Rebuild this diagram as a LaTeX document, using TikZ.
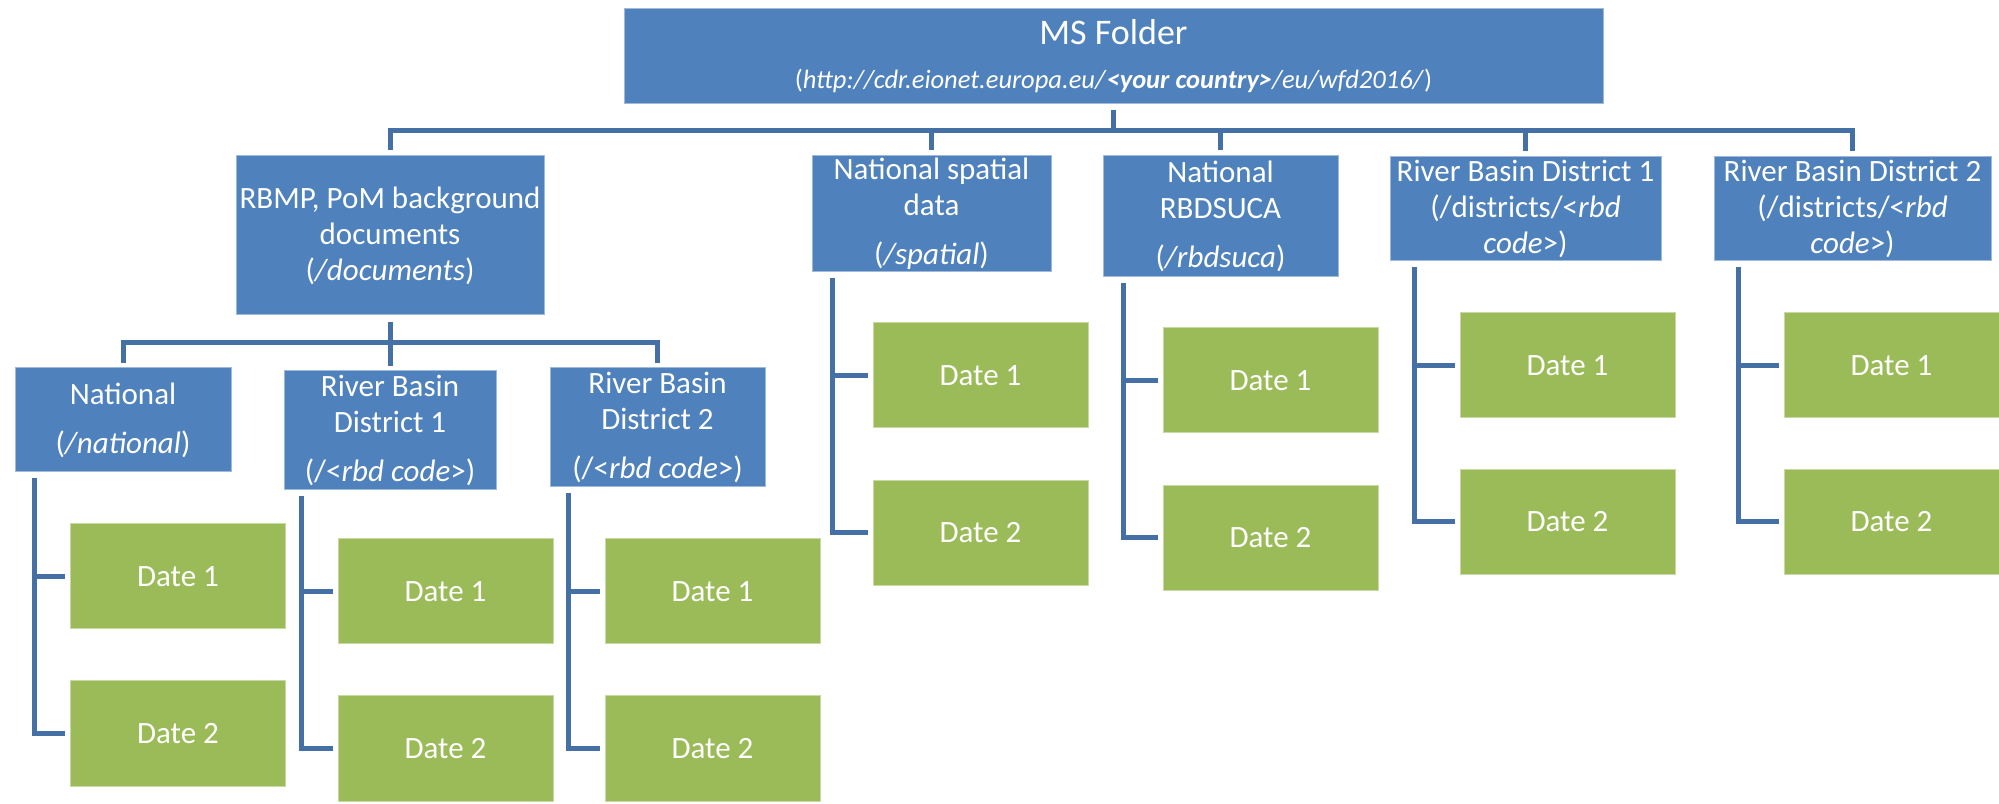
\documentclass[tikz,border=0pt]{standalone}
\usepackage{fontspec}
\setmainfont{Carlito}
\usepackage{tikz}
\usetikzlibrary{positioning,calc}

\definecolor{boxblue}{HTML}{4F81BD}
\definecolor{dategreen}{HTML}{9BBB59}
\definecolor{connblue}{HTML}{4470A6}

\tikzset{
  folder/.style={rectangle, fill=boxblue, draw=boxblue!55!white, line width=1pt,
    text=white, align=center, inner sep=0pt, font=\fontsize{31}{36}\selectfont},
  datebox/.style={rectangle, fill=dategreen, draw=dategreen!55!white, line width=1pt,
    text=white, inner sep=0pt, minimum width=215pt, minimum height=105pt,
    font=\fontsize{31}{36}\selectfont},
  conn/.style={draw=connblue, line width=5pt}
}

\begin{document}
\begin{tikzpicture}[x=1pt,y=1pt]
        \useasboundingbox (0,0) rectangle (1999,803);

        % Top folder
        \node[folder, minimum width=979pt, minimum height=95pt] (ms) at (1113.5,746.5)
          {{\fontsize{36}{40}\selectfont MS Folder}\\[8pt]
           {\fontsize{26.5}{30}\selectfont (\textit{http://cdr.eionet.europa.eu/}\textbf{\textit{<your country>}}\textit{/eu/wfd2016/})}};

        % First level folders
        \node[folder, minimum width=308pt, minimum height=159pt] (docs) at (390,567.5)
          {RBMP, PoM background\\documents\\(\textit{/documents})};
        \node[folder, minimum width=239pt, minimum height=116pt] (spatial) at (931.5,589)
          {National spatial\\data\\[13pt](\textit{/spatial})};
        \node[folder, minimum width=235pt, minimum height=121pt] (rbdsuca) at (1220.5,586.5)
          {National\\RBDSUCA\\[13pt](\textit{/rbdsuca})};
        \node[folder, minimum width=271pt, minimum height=104pt] (rbdA) at (1525.5,594)
          {River Basin District 1\\(/districts/<\textit{rbd}\\\textit{code}>)};
        \node[folder, minimum width=277pt, minimum height=104pt] (rbdB) at (1852.5,594)
          {River Basin District 2\\(/districts/<\textit{rbd}\\\textit{code}>)};

        % Folders below the documents
        \node[folder, minimum width=216pt, minimum height=104pt] (nat) at (123,383)
          {National\\[13pt](\textit{/national})};
        \node[folder, minimum width=212pt, minimum height=119pt] (docA) at (390,372.5)
          {River Basin\\District 1\\[13pt](/<\textit{rbd code}>)};
        \node[folder, minimum width=215pt, minimum height=119pt] (docB) at (657.5,375.5)
          {River Basin\\District 2\\[13pt](/<\textit{rbd code}>)};

        % Date folders
        \node[datebox] (natA) at (178,226.5) {Date 1};
        \node[datebox] (natB) at (178,69.5) {Date 2};
        \node[datebox] (docAA) at (445.5,211.5) {Date 1};
        \node[datebox] (docAB) at (445.5,54.5) {Date 2};
        \node[datebox] (docBA) at (712.5,211.5) {Date 1};
        \node[datebox] (docBB) at (712.5,54.5) {Date 2};
        \node[datebox] (spatialA) at (980.5,427.5) {Date 1};
        \node[datebox] (spatialB) at (980.5,270) {Date 2};
        \node[datebox] (rbdsucaA) at (1270.5,422.5) {Date 1};
        \node[datebox] (rbdsucaB) at (1270.5,265) {Date 2};
        \node[datebox] (rbdAA) at (1567.5,437.5) {Date 1};
        \node[datebox] (rbdAB) at (1567.5,281) {Date 2};
        \node[datebox] (rbdBA) at (1891.5,437.5) {Date 1};
        \node[datebox] (rbdBB) at (1891.5,281) {Date 2};

        % Connect the top folder to the first level
        \draw[conn] ([yshift=-6pt]ms.south) -- ++(0,-20) -| ([yshift=5pt]docs.north);
        \draw[conn] ([yshift=-6pt]ms.south) -- ++(0,-20) -| ([yshift=5pt]spatial.north);
        \draw[conn] ([yshift=-6pt]ms.south) -- ++(0,-20) -| ([yshift=5pt]rbdsuca.north);
        \draw[conn] ([yshift=-6pt]ms.south) -- ++(0,-20) -| ([yshift=5pt]rbdA.north);
        \draw[conn] ([yshift=-6pt]ms.south) -- ++(0,-20) -| ([yshift=5pt]rbdB.north);

        % Connect the documents to their folders
        \draw[conn] ([yshift=-7pt]docs.south) -- ++(0,-20) -| ([yshift=4pt]nat.north);
        \draw[conn] ([yshift=-7pt]docs.south) -- ++(0,-20) -| ([yshift=4pt]docA.north);
        \draw[conn] ([yshift=-7pt]docs.south) -- ++(0,-20) -| ([yshift=4pt]docB.north);

        % Connect the date folders
        \draw[conn] ([xshift=20pt,yshift=-6pt]nat.south west) |- ([xshift=-5pt]natA.west);
        \draw[conn] ([xshift=20pt,yshift=-6pt]nat.south west) |- ([xshift=-5pt]natB.west);
        \draw[conn] ([xshift=18pt,yshift=-6pt]docA.south west) |- ([xshift=-5pt]docAA.west);
        \draw[conn] ([xshift=18pt,yshift=-6pt]docA.south west) |- ([xshift=-5pt]docAB.west);
        \draw[conn] ([xshift=19pt,yshift=-6pt]docB.south west) |- ([xshift=-5pt]docBA.west);
        \draw[conn] ([xshift=19pt,yshift=-6pt]docB.south west) |- ([xshift=-5pt]docBB.west);
        \draw[conn] ([xshift=21pt,yshift=-6pt]spatial.south west) |- ([xshift=-5pt]spatialA.west);
        \draw[conn] ([xshift=21pt,yshift=-6pt]spatial.south west) |- ([xshift=-5pt]spatialB.west);
        \draw[conn] ([xshift=21pt,yshift=-6pt]rbdsuca.south west) |- ([xshift=-5pt]rbdsucaA.west);
        \draw[conn] ([xshift=21pt,yshift=-6pt]rbdsuca.south west) |- ([xshift=-5pt]rbdsucaB.west);
        \draw[conn] ([xshift=25pt,yshift=-6pt]rbdA.south west) |- ([xshift=-5pt]rbdAA.west);
        \draw[conn] ([xshift=25pt,yshift=-6pt]rbdA.south west) |- ([xshift=-5pt]rbdAB.west);
        \draw[conn] ([xshift=25pt,yshift=-6pt]rbdB.south west) |- ([xshift=-5pt]rbdBA.west);
        \draw[conn] ([xshift=25pt,yshift=-6pt]rbdB.south west) |- ([xshift=-5pt]rbdBB.west);

\end{tikzpicture}
\end{document}
